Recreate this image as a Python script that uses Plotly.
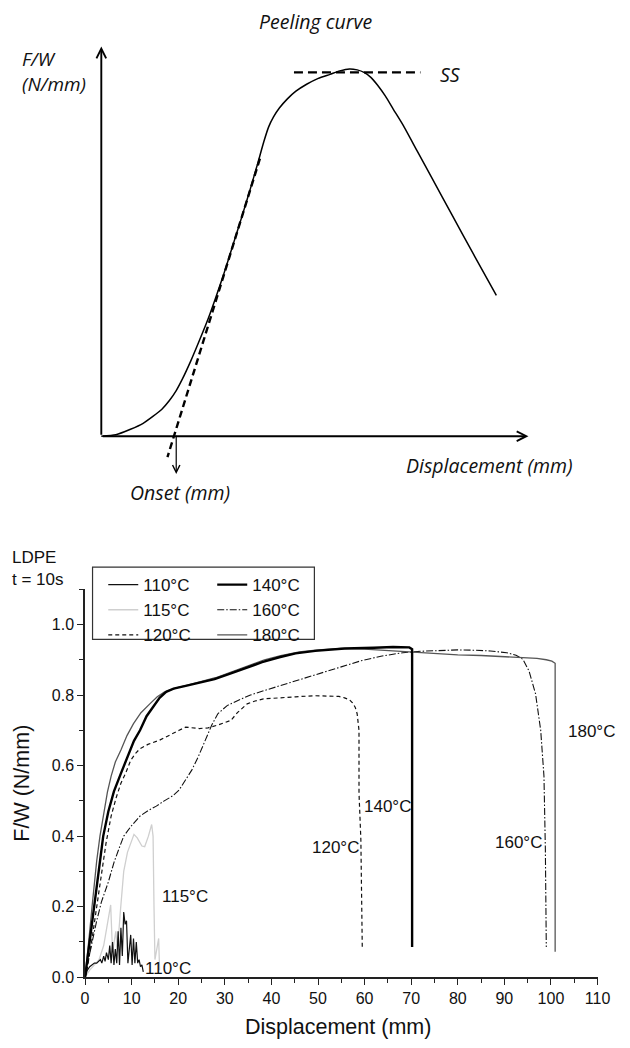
import plotly.graph_objects as go

# ---------------- Bottom chart: LDPE peel curves (Displacement mm, F/W N/mm) ----------------
x110 = [0, 0.5, 1, 1.5, 2, 2.5, 3, 3.3, 3.6, 4, 4.3, 4.6, 5, 5.3, 5.6, 5.9, 6.2, 6.5, 6.8,
        7.1, 7.4, 7.7, 8.0, 8.3, 8.6, 8.9, 9.2, 9.5, 9.8, 10.1, 10.4, 10.7, 11.0, 11.3,
        11.6, 11.9, 12.2, 12.5]
y110 = [0, 0.02, 0.03, 0.035, 0.04, 0.04, 0.045, 0.05, 0.04, 0.06, 0.045, 0.07, 0.05, 0.09,
        0.04, 0.10, 0.035, 0.08, 0.04, 0.13, 0.035, 0.14, 0.06, 0.185, 0.15, 0.16, 0.04,
        0.09, 0.12, 0.035, 0.11, 0.04, 0.10, 0.04, 0.05, 0.03, 0.035, 0.015]

x115 = [0, 1, 2, 3, 4, 4.8, 5.5, 5.9, 6.3, 6.6, 6.9, 7.2, 7.6, 8.3, 9.1, 10, 10.5, 11.2,
        12.2, 12.8, 13.6, 14.3, 14.6, 14.8, 15.0, 15.4, 15.8, 16.0]
y115 = [0, 0.02, 0.035, 0.05, 0.09, 0.15, 0.205, 0.07, 0.10, 0.13, 0.085, 0.12, 0.19, 0.30,
        0.354, 0.385, 0.405, 0.395, 0.372, 0.37, 0.40, 0.433, 0.40, 0.20, 0.05, 0.08, 0.11, 0.02]

x120 = [0, 0.35, 1.4, 2.5, 3.5, 4.5, 5.6, 6.7, 7.7, 8.7, 9.8, 10.8, 11.8, 13.5, 16, 18.5,
        20.2, 21.6, 23, 24.5, 26.4, 28.5, 31.3, 32.7, 34.8, 36.5, 38.3, 41, 45.2, 49.4,
        52.1, 54.5, 55.7, 56.8, 57.4, 58.0, 58.4, 58.8, 58.8, 59.2, 59.5]
y120 = [0, 0.016, 0.10, 0.20, 0.297, 0.38, 0.457, 0.51, 0.55, 0.578, 0.615, 0.634, 0.648,
        0.66, 0.672, 0.69, 0.70, 0.709, 0.708, 0.705, 0.707, 0.715, 0.728, 0.75, 0.775,
        0.783, 0.789, 0.792, 0.795, 0.798, 0.798, 0.796, 0.792, 0.786, 0.778, 0.765, 0.747,
        0.70, 0.522, 0.39, 0.086]

x140 = [0, 0.5, 1, 2, 3, 3.9, 5, 6.2, 7.7, 9.1, 10.5, 11.8, 13.2, 14.6, 16, 17.4, 19, 21.6,
        24, 27.8, 31, 34.8, 38, 41.7, 45.2, 49.4, 55.7, 62, 66.1, 69.6, 70.2, 70.2]
y140 = [0, 0.05, 0.10, 0.20, 0.30, 0.40, 0.47, 0.527, 0.578, 0.626, 0.67, 0.70, 0.74, 0.766,
        0.792, 0.809, 0.818, 0.826, 0.834, 0.845, 0.86, 0.878, 0.893, 0.907, 0.918, 0.925,
        0.932, 0.934, 0.936, 0.935, 0.93, 0.086]

x160 = [0, 0.5, 1.4, 2.5, 3.5, 5, 6.2, 7.3, 8.3, 10, 11.8, 13.5, 15.3, 17, 18.8, 20.2, 21.6,
        22.9, 24.3, 25.8, 27.2, 28.5, 30.5, 32.7, 35.5, 38.3, 41.7, 45.2, 48.5, 52.1, 55.5,
        59.2, 63.5, 68.2, 72, 76.5, 80, 83.5, 87, 90.5, 92.5, 94, 95.3, 96.7, 97.8, 98.5,
        98.8, 99.0]
y160 = [0, 0.03, 0.092, 0.16, 0.213, 0.27, 0.325, 0.365, 0.40, 0.43, 0.457, 0.472, 0.485,
        0.50, 0.514, 0.531, 0.559, 0.587, 0.625, 0.672, 0.715, 0.747, 0.77, 0.784, 0.80,
        0.812, 0.826, 0.840, 0.852, 0.868, 0.882, 0.897, 0.91, 0.92, 0.924, 0.927, 0.928,
        0.927, 0.925, 0.92, 0.913, 0.901, 0.868, 0.803, 0.70, 0.57, 0.363, 0.086]

x180 = [0, 0.5, 1, 1.5, 2, 2.5, 3.2, 4, 4.8, 5.6, 6.5, 7.7, 9, 10.4, 12, 13.9, 15.5, 17, 18.5,
        20, 22, 25, 28, 31.5, 35, 38.5, 42, 46, 50, 55, 60, 65, 70, 75, 80, 85, 90, 94, 97,
        99, 100.2, 100.9, 100.9]
y180 = [0, 0.06, 0.13, 0.2, 0.27, 0.33, 0.40, 0.46, 0.525, 0.57, 0.61, 0.644, 0.685, 0.719,
        0.75, 0.775, 0.795, 0.808, 0.815, 0.822, 0.828, 0.838, 0.849, 0.866, 0.884, 0.9,
        0.912, 0.922, 0.928, 0.932, 0.93, 0.926, 0.921, 0.917, 0.914, 0.912, 0.909, 0.907,
        0.904, 0.9, 0.896, 0.89, 0.072]

x_ticks = [0, 10, 20, 30, 40, 50, 60, 70, 80, 90, 100, 110]
y_ticks = [0.0, 0.2, 0.4, 0.6, 0.8, 1.0]

# curve-end labels: (text, x, y, anchor)
end_labels = [("180°C", 103.3, 0.696, "left"), ("140°C", 59.4, 0.485, "left"),
              ("120°C", 59.3, 0.367, "right"), ("160°C", 98.5, 0.381, "right"),
              ("115°C", 16.0, 0.23, "left"), ("110°C", 12.4, 0.024, "left")]

# ---------------- Top schematic: peeling curve (schematic units) ----------------
peel_x = [0, 15, 30, 43, 53, 62, 70, 77, 83, 92, 101, 110, 118, 126, 135, 144, 153, 161, 167,
          172, 177, 183, 191, 200, 211, 223, 235, 245, 255, 263, 270, 277, 284, 292, 300,
          310, 325, 340, 360, 384, 406]
peel_y = [0, 1.5, 7, 13, 20, 27, 36, 46, 57, 76, 97, 119, 141, 164, 192, 220, 249, 276, 297,
          312, 322, 331, 340, 348, 355, 361, 365, 368.5, 370.5, 369.5, 367, 362, 354, 343,
          330, 314, 287, 260, 224, 181, 142]
tangent_x = [163, 68]
tangent_y = [280, -21]
ss_x = [198, 328]
ss_y = [367, 367]
axis_end_x = 439
axis_end_y = 393
onset_x = 77
onset_drop = -38

BF = "Liberation Sans, Arial, sans-serif"
SF = "Open Sans, sans-serif"

fig = go.Figure()

series = [
    ("115°C", x115, y115, dict(color="#cfcfcf", width=1.3), 2, "legend"),
    ("120°C", x120, y120, dict(color="#111", width=1.2, dash="4px,3px"), 3, "legend"),
    ("160°C", x160, y160, dict(color="#111", width=1.1, dash="7px,2px,1.5px,2px"), 5, "legend2"),
    ("180°C", x180, y180, dict(color="#555", width=1.3), 6, "legend2"),
    ("110°C", x110, y110, dict(color="#111", width=1.2), 1, "legend"),
    ("140°C", x140, y140, dict(color="#000", width=2.4), 4, "legend2"),
]
for name, xs, ys, ln, rank, lg in series:
    fig.add_trace(go.Scatter(x=xs, y=ys, mode="lines", name=name, line=ln,
                             legendrank=rank, legend=lg, xaxis="x", yaxis="y"))

# schematic traces
fig.add_trace(go.Scatter(x=peel_x, y=peel_y, mode="lines",
                         line=dict(color="#000", width=1.5, shape="spline", smoothing=0.6),
                         showlegend=False, xaxis="x2", yaxis="y2"))
fig.add_trace(go.Scatter(x=tangent_x, y=tangent_y, mode="lines",
                         line=dict(color="#000", width=2.4, dash="7px,4px"),
                         showlegend=False, xaxis="x2", yaxis="y2"))
fig.add_trace(go.Scatter(x=ss_x, y=ss_y, mode="lines",
                         line=dict(color="#000", width=2.2, dash="9px,5px"),
                         showlegend=False, xaxis="x2", yaxis="y2"))

ann = []
# schematic arrows
for (hx, hy, tx, ty, w, s) in [(0, axis_end_y, 0, 0, 1.9, 1.0),
                              (axis_end_x, 0, 0, 0, 1.9, 1.0),
                              (onset_x, onset_drop, onset_x, 2, 1.2, 1.2)]:
    ann.append(dict(x=hx, y=hy, ax=tx, ay=ty, xref="x2", yref="y2", axref="x2", ayref="y2",
                    text="", showarrow=True, arrowhead=5, arrowsize=s, arrowwidth=w,
                    arrowcolor="#000", standoff=0, startstandoff=0))

ifont = dict(family=SF, size=19.5, color="#111", style="italic")
ann += [
    dict(x=320 / 630, y=1 - 22 / 1048, xref="paper", yref="paper", text="Peeling curve",
         showarrow=False, font=ifont, xanchor="center", yanchor="middle"),
    dict(x=16 / 630, y=1 - 72 / 1048, xref="paper", yref="paper", text="F/W<br>(N/mm)",
         showarrow=False, font=dict(family=SF, size=19, color="#111", style="italic"),
         align="left", xanchor="left", yanchor="middle"),
    dict(x=446 / 630, y=1 - 75 / 1048, xref="paper", yref="paper", text="SS",
         showarrow=False, font=ifont, xanchor="left", yanchor="middle"),
    dict(x=411 / 630, y=1 - 470 / 1048, xref="paper", yref="paper", text="Displacement (mm)",
         showarrow=False, font=ifont, xanchor="left", yanchor="middle"),
    dict(x=127 / 630, y=1 - 497 / 1048, xref="paper", yref="paper", text="Onset (mm)",
         showarrow=False, font=ifont, xanchor="left", yanchor="middle"),
]

bfont = dict(family=BF, size=17, color="#111")
for t, xx, yy, anc in end_labels:
    ann.append(dict(x=xx, y=yy, xref="x", yref="y", text=t, showarrow=False, font=bfont,
                    xanchor=anc, yanchor="middle"))
tfont = dict(family=BF, size=21.5, color="#111")
ann += [
    dict(x=6 / 630, y=1 - 562 / 1048, xref="paper", yref="paper", text="LDPE",
         showarrow=False, font=bfont, xanchor="left", yanchor="middle"),
    dict(x=6 / 630, y=1 - 585 / 1048, xref="paper", yref="paper", text="t = 10s",
         showarrow=False, font=bfont, xanchor="left", yanchor="middle"),
    dict(x=343 / 630, y=1 - 1036 / 1048, xref="paper", yref="paper", text="Displacement (mm)",
         showarrow=False, font=tfont, xanchor="center", yanchor="middle"),
    dict(x=19 / 630, y=1 - 790 / 1048, xref="paper", yref="paper", text="F/W (N/mm)",
         showarrow=False, font=tfont, textangle=-90, xanchor="center", yanchor="middle"),
]

axcol = "#222"
fig.update_layout(
    width=630, height=1048, margin=dict(l=0, r=0, t=0, b=0),
    paper_bgcolor="white", plot_bgcolor="rgba(0,0,0,0)",
    xaxis=dict(domain=[83.3 / 630, 610 / 630], range=[0, 110], tickvals=x_ticks,
               showline=True, linecolor=axcol, linewidth=1.6, ticks="outside", ticklen=6,
               tickwidth=1.4, tickcolor=axcol, showgrid=False, zeroline=False,
               tickfont=dict(family=BF, size=16, color="#111"),
               minor=dict(dtick=5, ticks="outside", ticklen=4, tickwidth=1.2, tickcolor=axcol)),
    yaxis=dict(domain=[62.3 / 1048, 453.7 / 1048], range=[0, 1.1], tickvals=y_ticks,
               tickformat=".1f", showline=True, linecolor=axcol, linewidth=1.6,
               ticks="outside", ticklen=6, tickwidth=1.4, tickcolor=axcol, showgrid=False,
               zeroline=False, tickfont=dict(family=BF, size=16, color="#111"),
               minor=dict(dtick=0.1, ticks="outside", ticklen=4, tickwidth=1.2, tickcolor=axcol)),
    xaxis2=dict(domain=[0, 1], range=[-100, 530], visible=False, anchor="y2"),
    yaxis2=dict(domain=[0.5, 1], range=[-84, 440], visible=False, anchor="x2"),
    legend=dict(x=102 / 630, y=1 - 572 / 1048, xanchor="left", yanchor="top",
                bgcolor="rgba(0,0,0,0)", borderwidth=0, font=bfont, tracegroupgap=0),
    legend2=dict(x=214 / 630, y=1 - 572 / 1048, xanchor="left", yanchor="top",
                 bgcolor="rgba(0,0,0,0)", borderwidth=0, font=bfont, tracegroupgap=0),
    annotations=ann,
    shapes=[dict(type="rect", xref="paper", yref="paper", x0=91 / 630, x1=319 / 630,
                 y0=1 - 645 / 1048, y1=1 - 572 / 1048,
                 line=dict(color="#333", width=1.2))],
    showlegend=True,
)

fig.write_html("out.html")
